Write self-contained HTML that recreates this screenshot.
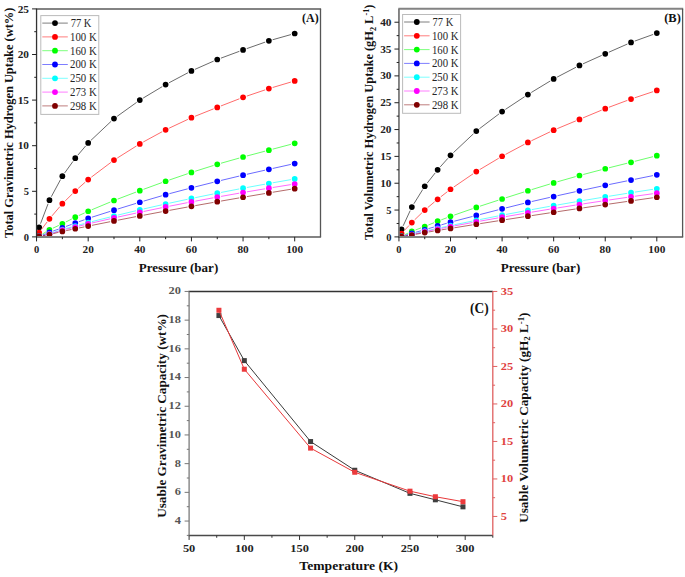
<!DOCTYPE html><html><head><meta charset="utf-8"><style>html,body{margin:0;padding:0;background:#fff;width:685px;height:577px;overflow:hidden}svg{display:block}text{font-family:"Liberation Serif", serif}.tk{font-size:10.5px;font-weight:bold;fill:#222}.lg{font-size:11.5px;fill:#262626}.tag{font-size:13.5px;font-weight:bold;fill:#111}.ti{font-size:12px;font-weight:bold;fill:#111}.tkg{font-size:10.5px;font-weight:bold;fill:#555}.tkr{font-size:10.5px;font-weight:bold;fill:#e04040}</style></head><body><svg width="685" height="577" viewBox="0 0 685 577">
<clipPath id="cA"><rect x="36.55" y="8.9" width="283.95" height="227.8"/></clipPath><g clip-path="url(#cA)">
<path d="M40.52 223.68L48.07 203.79M51.3 196.71L60.52 179.6M64.64 172.99L73 161.36M77.79 155.22L85.66 145.94M91.01 140.29L111.15 121.29M117.16 116.34L136.64 102.37M143.15 98.09L162.27 86.6M169.06 82.77L187.99 72.74M195 69.34L213.68 61.09M220.9 58.16L239.4 51.3M246.74 48.64L265.2 42.12M272.63 39.76L290.93 34.58" fill="none" stroke="#000000" stroke-width="0.75" stroke-opacity="0.78"/>
<circle cx="39.13" cy="227.32" r="2.85" fill="#000000"/>
<circle cx="49.46" cy="200.15" r="2.85" fill="#000000"/>
<circle cx="62.36" cy="176.16" r="2.85" fill="#000000"/>
<circle cx="75.27" cy="158.19" r="2.85" fill="#000000"/>
<circle cx="88.18" cy="142.96" r="2.85" fill="#000000"/>
<circle cx="113.99" cy="118.61" r="2.85" fill="#000000"/>
<circle cx="139.8" cy="100.1" r="2.85" fill="#000000"/>
<circle cx="165.62" cy="84.6" r="2.85" fill="#000000"/>
<circle cx="191.43" cy="70.92" r="2.85" fill="#000000"/>
<circle cx="217.25" cy="59.52" r="2.85" fill="#000000"/>
<circle cx="243.06" cy="49.94" r="2.85" fill="#000000"/>
<circle cx="268.87" cy="40.82" r="2.85" fill="#000000"/>
<circle cx="294.69" cy="33.52" r="2.85" fill="#000000"/>
<path d="M41.48 229.41L47.11 221.96M51.99 215.87L59.83 206.67M65.15 200.97L72.49 193.76M78.18 188.43L85.26 182.13M91.29 177.19L110.87 162.45M117.29 158.03L136.5 145.95M143.23 142.01L162.19 131.7M169.15 128.17L187.9 119.36M195.05 116.26L213.62 108.84M220.88 105.98L239.42 98.78M246.75 96.11L265.18 89.86M272.61 87.5L290.95 82.06" fill="none" stroke="#ff0000" stroke-width="0.75" stroke-opacity="0.78"/>
<circle cx="39.13" cy="232.52" r="2.85" fill="#ff0000"/>
<circle cx="49.46" cy="218.84" r="2.85" fill="#ff0000"/>
<circle cx="62.36" cy="203.7" r="2.85" fill="#ff0000"/>
<circle cx="75.27" cy="191.03" r="2.85" fill="#ff0000"/>
<circle cx="88.18" cy="179.54" r="2.85" fill="#ff0000"/>
<circle cx="113.99" cy="160.11" r="2.85" fill="#ff0000"/>
<circle cx="139.8" cy="143.88" r="2.85" fill="#ff0000"/>
<circle cx="165.62" cy="129.83" r="2.85" fill="#ff0000"/>
<circle cx="191.43" cy="117.7" r="2.85" fill="#ff0000"/>
<circle cx="217.25" cy="107.4" r="2.85" fill="#ff0000"/>
<circle cx="243.06" cy="97.36" r="2.85" fill="#ff0000"/>
<circle cx="268.87" cy="88.61" r="2.85" fill="#ff0000"/>
<circle cx="294.69" cy="80.95" r="2.85" fill="#ff0000"/>
<path d="M42.47 233.98L46.11 231.79M52.99 228.14L58.83 225.42M65.84 222L71.79 218.97M78.81 215.57L84.63 212.9M91.78 209.77L110.39 202.01M117.63 199.12L136.16 192.05M143.47 189.33L161.95 182.6M169.31 180L187.74 173.69M195.15 171.25L213.53 165.47M221 163.24L239.31 158.07M246.83 156.01L265.1 151.17M272.64 149.17L290.92 144.33" fill="none" stroke="#00ff00" stroke-width="0.75" stroke-opacity="0.78"/>
<circle cx="39.13" cy="235.99" r="2.85" fill="#00ff00"/>
<circle cx="49.46" cy="229.79" r="2.85" fill="#00ff00"/>
<circle cx="62.36" cy="223.77" r="2.85" fill="#00ff00"/>
<circle cx="75.27" cy="217.2" r="2.85" fill="#00ff00"/>
<circle cx="88.18" cy="211.27" r="2.85" fill="#00ff00"/>
<circle cx="113.99" cy="200.51" r="2.85" fill="#00ff00"/>
<circle cx="139.8" cy="190.66" r="2.85" fill="#00ff00"/>
<circle cx="165.62" cy="181.27" r="2.85" fill="#00ff00"/>
<circle cx="191.43" cy="172.42" r="2.85" fill="#00ff00"/>
<circle cx="217.25" cy="164.3" r="2.85" fill="#00ff00"/>
<circle cx="243.06" cy="157.01" r="2.85" fill="#00ff00"/>
<circle cx="268.87" cy="150.17" r="2.85" fill="#00ff00"/>
<circle cx="294.69" cy="143.33" r="2.85" fill="#00ff00"/>
<path d="M42.77 234.94L45.82 233.75M53.13 231.04L58.69 229.08M66.02 226.43L71.61 224.38M78.94 221.72L84.51 219.71M91.89 217.2L110.27 211.36M117.72 209.03L136.08 203.39M143.55 201.15L161.88 195.77M169.39 193.68L187.66 188.83M195.21 186.89L213.46 182.31M221.04 180.45L239.27 176.07M246.86 174.3L265.07 170.18M272.68 168.47L290.88 164.42" fill="none" stroke="#0000ff" stroke-width="0.75" stroke-opacity="0.78"/>
<circle cx="39.13" cy="236.35" r="2.85" fill="#0000ff"/>
<circle cx="49.46" cy="232.34" r="2.85" fill="#0000ff"/>
<circle cx="62.36" cy="227.78" r="2.85" fill="#0000ff"/>
<circle cx="75.27" cy="223.04" r="2.85" fill="#0000ff"/>
<circle cx="88.18" cy="218.39" r="2.85" fill="#0000ff"/>
<circle cx="113.99" cy="210.18" r="2.85" fill="#0000ff"/>
<circle cx="139.8" cy="202.24" r="2.85" fill="#0000ff"/>
<circle cx="165.62" cy="194.67" r="2.85" fill="#0000ff"/>
<circle cx="191.43" cy="187.83" r="2.85" fill="#0000ff"/>
<circle cx="217.25" cy="181.36" r="2.85" fill="#0000ff"/>
<circle cx="243.06" cy="175.16" r="2.85" fill="#0000ff"/>
<circle cx="268.87" cy="169.32" r="2.85" fill="#0000ff"/>
<circle cx="294.69" cy="163.58" r="2.85" fill="#0000ff"/>
<path d="M42.91 235.48L45.68 234.77M53.16 232.57L58.66 230.74M66.13 228.48L71.51 227.01M79.04 224.98L84.41 223.56M91.96 221.6L110.21 216.97M117.78 215.1L136.01 210.73M143.61 208.96L161.81 204.84M169.43 203.16L187.62 199.26M195.25 197.67L213.42 193.97M221.07 192.46L239.23 188.95M246.9 187.51L265.04 184.18M272.71 182.8L290.84 179.64" fill="none" stroke="#00ffff" stroke-width="0.75" stroke-opacity="0.78"/>
<circle cx="39.13" cy="236.44" r="2.85" fill="#00ffff"/>
<circle cx="49.46" cy="233.8" r="2.85" fill="#00ffff"/>
<circle cx="62.36" cy="229.51" r="2.85" fill="#00ffff"/>
<circle cx="75.27" cy="225.98" r="2.85" fill="#00ffff"/>
<circle cx="88.18" cy="222.56" r="2.85" fill="#00ffff"/>
<circle cx="113.99" cy="216.01" r="2.85" fill="#00ffff"/>
<circle cx="139.8" cy="209.83" r="2.85" fill="#00ffff"/>
<circle cx="165.62" cy="203.98" r="2.85" fill="#00ffff"/>
<circle cx="191.43" cy="198.45" r="2.85" fill="#00ffff"/>
<circle cx="217.25" cy="193.2" r="2.85" fill="#00ffff"/>
<circle cx="243.06" cy="188.21" r="2.85" fill="#00ffff"/>
<circle cx="268.87" cy="183.48" r="2.85" fill="#00ffff"/>
<circle cx="294.69" cy="178.96" r="2.85" fill="#00ffff"/>
<path d="M42.94 235.6L45.65 235M53.18 233.02L58.64 231.35M66.15 229.26L71.49 227.94M79.06 226.08L84.39 224.8M91.98 223.01L110.19 218.8M117.8 217.09L135.99 213.12M143.62 211.5L161.8 207.74M169.45 206.2L187.6 202.64M195.27 201.17L213.41 197.79M221.09 196.4L239.22 193.18M246.9 191.85L265.03 188.8M272.72 187.53L290.84 184.62" fill="none" stroke="#ff00ff" stroke-width="0.75" stroke-opacity="0.78"/>
<circle cx="39.13" cy="236.44" r="2.85" fill="#ff00ff"/>
<circle cx="49.46" cy="234.16" r="2.85" fill="#ff00ff"/>
<circle cx="62.36" cy="230.2" r="2.85" fill="#ff00ff"/>
<circle cx="75.27" cy="227" r="2.85" fill="#ff00ff"/>
<circle cx="88.18" cy="223.89" r="2.85" fill="#ff00ff"/>
<circle cx="113.99" cy="217.92" r="2.85" fill="#ff00ff"/>
<circle cx="139.8" cy="212.29" r="2.85" fill="#ff00ff"/>
<circle cx="165.62" cy="206.95" r="2.85" fill="#ff00ff"/>
<circle cx="191.43" cy="201.88" r="2.85" fill="#ff00ff"/>
<circle cx="217.25" cy="197.08" r="2.85" fill="#ff00ff"/>
<circle cx="243.06" cy="192.5" r="2.85" fill="#ff00ff"/>
<circle cx="268.87" cy="188.15" r="2.85" fill="#ff00ff"/>
<circle cx="294.69" cy="184" r="2.85" fill="#ff00ff"/>
<path d="M42.97 235.73L45.62 235.24M53.25 233.62L58.57 232.33M66.18 230.63L71.45 229.53M79.09 227.96L84.36 226.89M92 225.34L110.17 221.71M117.82 220.2L135.98 216.67M143.64 215.21L161.79 211.78M169.45 210.36L187.6 207.03M195.27 205.64L213.41 202.41M221.09 201.06L239.22 197.91M246.9 196.6L265.03 193.54M272.72 192.26L290.84 189.28" fill="none" stroke="#800000" stroke-width="0.75" stroke-opacity="0.78"/>
<circle cx="39.13" cy="236.44" r="2.85" fill="#800000"/>
<circle cx="49.46" cy="234.53" r="2.85" fill="#800000"/>
<circle cx="62.36" cy="231.42" r="2.85" fill="#800000"/>
<circle cx="75.27" cy="228.74" r="2.85" fill="#800000"/>
<circle cx="88.18" cy="226.1" r="2.85" fill="#800000"/>
<circle cx="113.99" cy="220.94" r="2.85" fill="#800000"/>
<circle cx="139.8" cy="215.93" r="2.85" fill="#800000"/>
<circle cx="165.62" cy="211.06" r="2.85" fill="#800000"/>
<circle cx="191.43" cy="206.33" r="2.85" fill="#800000"/>
<circle cx="217.25" cy="201.72" r="2.85" fill="#800000"/>
<circle cx="243.06" cy="197.25" r="2.85" fill="#800000"/>
<circle cx="268.87" cy="192.89" r="2.85" fill="#800000"/>
<circle cx="294.69" cy="188.65" r="2.85" fill="#800000"/>
</g>
<path d="M35.95 8.9H321.1M35.95 236.9H321.1" fill="none" stroke="#838383" stroke-width="2"/>
<path d="M36.55 8.9V236.9" fill="none" stroke="#333" stroke-width="1.3"/>
<path d="M320.5 8.9V236.9" fill="none" stroke="#555" stroke-width="1.3"/>
<path d="M36.55 236.9v4.5M88.18 236.9v4.5M139.8 236.9v4.5M191.43 236.9v4.5M243.06 236.9v4.5M294.69 236.9v4.5M62.36 236.9v2.3M113.99 236.9v2.3M165.62 236.9v2.3M217.25 236.9v2.3M268.87 236.9v2.3M36.55 236.9h-4.5M36.55 191.3h-4.5M36.55 145.7h-4.5M36.55 100.1h-4.5M36.55 54.5h-4.5M36.55 8.9h-4.5M36.55 214.1h-2.3M36.55 168.5h-2.3M36.55 122.9h-2.3M36.55 77.3h-2.3M36.55 31.7h-2.3" stroke="#222" stroke-width="1" fill="none"/>
<text x="36.55" y="252.8" text-anchor="middle" class="tk">0</text>
<text x="88.18" y="252.8" text-anchor="middle" class="tk" textLength="11.3" lengthAdjust="spacingAndGlyphs">20</text>
<text x="139.8" y="252.8" text-anchor="middle" class="tk" textLength="11.3" lengthAdjust="spacingAndGlyphs">40</text>
<text x="191.43" y="252.8" text-anchor="middle" class="tk" textLength="11.3" lengthAdjust="spacingAndGlyphs">60</text>
<text x="243.06" y="252.8" text-anchor="middle" class="tk" textLength="11.3" lengthAdjust="spacingAndGlyphs">80</text>
<text x="294.69" y="252.8" text-anchor="middle" class="tk" textLength="16.95" lengthAdjust="spacingAndGlyphs">100</text>
<text x="29" y="240.5" text-anchor="end" class="tk">0</text>
<text x="29" y="194.9" text-anchor="end" class="tk">5</text>
<text x="29" y="149.3" text-anchor="end" class="tk" textLength="11.3" lengthAdjust="spacingAndGlyphs">10</text>
<text x="29" y="103.7" text-anchor="end" class="tk" textLength="11.3" lengthAdjust="spacingAndGlyphs">15</text>
<text x="29" y="58.1" text-anchor="end" class="tk" textLength="11.3" lengthAdjust="spacingAndGlyphs">20</text>
<text x="29" y="12.5" text-anchor="end" class="tk" textLength="11.3" lengthAdjust="spacingAndGlyphs">25</text>
<rect x="40.8" y="15.6" width="58" height="98.8" fill="#fff" stroke="#bbb" stroke-width="1"/>
<path d="M42.3 23.1h25.5" stroke="#000000" stroke-width="1" opacity="0.5"/>
<circle cx="55" cy="23.1" r="2.9" fill="#000000"/>
<text x="70.7" y="27" class="lg" textLength="20.8" lengthAdjust="spacingAndGlyphs">77 K</text>
<path d="M42.3 36.9h25.5" stroke="#ff0000" stroke-width="1" opacity="0.5"/>
<circle cx="55" cy="36.9" r="2.9" fill="#ff0000"/>
<text x="70.1" y="40.8" class="lg" textLength="26.6" lengthAdjust="spacingAndGlyphs">100 K</text>
<path d="M42.3 50.7h25.5" stroke="#00ff00" stroke-width="1" opacity="0.5"/>
<circle cx="55" cy="50.7" r="2.9" fill="#00ff00"/>
<text x="70.1" y="54.6" class="lg" textLength="26.6" lengthAdjust="spacingAndGlyphs">160 K</text>
<path d="M42.3 64.5h25.5" stroke="#0000ff" stroke-width="1" opacity="0.5"/>
<circle cx="55" cy="64.5" r="2.9" fill="#0000ff"/>
<text x="70.1" y="68.4" class="lg" textLength="26.6" lengthAdjust="spacingAndGlyphs">200 K</text>
<path d="M42.3 78.3h25.5" stroke="#00ffff" stroke-width="1" opacity="0.5"/>
<circle cx="55" cy="78.3" r="2.9" fill="#00ffff"/>
<text x="70.1" y="82.2" class="lg" textLength="26.6" lengthAdjust="spacingAndGlyphs">250 K</text>
<path d="M42.3 92.1h25.5" stroke="#ff00ff" stroke-width="1" opacity="0.5"/>
<circle cx="55" cy="92.1" r="2.9" fill="#ff00ff"/>
<text x="70.1" y="96" class="lg" textLength="26.6" lengthAdjust="spacingAndGlyphs">273 K</text>
<path d="M42.3 105.9h25.5" stroke="#800000" stroke-width="1" opacity="0.5"/>
<circle cx="55" cy="105.9" r="2.9" fill="#800000"/>
<text x="70.1" y="109.8" class="lg" textLength="26.6" lengthAdjust="spacingAndGlyphs">298 K</text>
<text x="318.7" y="21.5" text-anchor="end" class="tag" textLength="16.6" lengthAdjust="spacingAndGlyphs">(A)</text>
<clipPath id="cB"><rect x="398.95" y="8.8" width="283.65" height="227.9"/></clipPath><g clip-path="url(#cB)">
<path d="M403.17 225.83L410.2 210.62M413.89 203.77L422.68 189.55M427.15 183.17L435.22 172.9M440.22 166.92L447.93 158.28M453.36 152.69L473.47 133.75M479.42 128.73L498.98 113.95M505.35 109.44L524.63 96.7M531.22 92.52L550.33 80.94M557.12 77.11L576 67.25M583.01 63.84L601.69 55.41M608.81 52.23L627.46 44M634.7 41.1L653.15 34.44" fill="none" stroke="#000000" stroke-width="0.75" stroke-opacity="0.78"/>
<circle cx="401.53" cy="229.37" r="2.85" fill="#000000"/>
<circle cx="411.84" cy="207.08" r="2.85" fill="#000000"/>
<circle cx="424.74" cy="186.24" r="2.85" fill="#000000"/>
<circle cx="437.63" cy="169.83" r="2.85" fill="#000000"/>
<circle cx="450.52" cy="155.37" r="2.85" fill="#000000"/>
<circle cx="476.31" cy="131.08" r="2.85" fill="#000000"/>
<circle cx="502.1" cy="111.59" r="2.85" fill="#000000"/>
<circle cx="527.88" cy="94.55" r="2.85" fill="#000000"/>
<circle cx="553.67" cy="78.92" r="2.85" fill="#000000"/>
<circle cx="579.45" cy="65.44" r="2.85" fill="#000000"/>
<circle cx="605.24" cy="53.8" r="2.85" fill="#000000"/>
<circle cx="631.03" cy="42.42" r="2.85" fill="#000000"/>
<circle cx="656.81" cy="33.11" r="2.85" fill="#000000"/>
<path d="M404.21 230.64L409.16 225.39M414.65 219.84L421.93 212.79M427.73 207.58L434.64 201.79M440.71 196.89L447.45 191.64M453.74 187.04L473.09 173.82M479.66 169.62L498.75 158.24M505.53 154.41L524.44 144.29M531.4 140.77L550.15 131.82M557.27 128.64L575.86 120.89M583.05 117.88L601.64 110.14M608.9 107.27L627.37 100.39M634.73 97.79L653.11 91.67" fill="none" stroke="#ff0000" stroke-width="0.75" stroke-opacity="0.78"/>
<circle cx="401.53" cy="233.48" r="2.85" fill="#ff0000"/>
<circle cx="411.84" cy="222.56" r="2.85" fill="#ff0000"/>
<circle cx="424.74" cy="210.08" r="2.85" fill="#ff0000"/>
<circle cx="437.63" cy="199.29" r="2.85" fill="#ff0000"/>
<circle cx="450.52" cy="189.24" r="2.85" fill="#ff0000"/>
<circle cx="476.31" cy="171.62" r="2.85" fill="#ff0000"/>
<circle cx="502.1" cy="156.25" r="2.85" fill="#ff0000"/>
<circle cx="527.88" cy="142.45" r="2.85" fill="#ff0000"/>
<circle cx="553.67" cy="130.14" r="2.85" fill="#ff0000"/>
<circle cx="579.45" cy="119.38" r="2.85" fill="#ff0000"/>
<circle cx="605.24" cy="108.64" r="2.85" fill="#ff0000"/>
<circle cx="631.03" cy="99.03" r="2.85" fill="#ff0000"/>
<circle cx="656.81" cy="90.43" r="2.85" fill="#ff0000"/>
<path d="M405.06 234.52L408.32 232.98M415.5 229.96L421.08 227.88M428.34 225.04L434.02 222.71M441.28 219.85L446.87 217.74M454.21 215.09L472.63 208.67M480.02 206.18L498.39 200.19M505.81 197.79L524.17 191.95M531.61 189.63L549.94 184.02M557.42 181.81L575.71 176.57M583.23 174.5L601.47 169.72M609.02 167.78L627.24 163.22M634.81 161.32L653.03 156.68" fill="none" stroke="#00ff00" stroke-width="0.75" stroke-opacity="0.78"/>
<circle cx="401.53" cy="236.19" r="2.85" fill="#00ff00"/>
<circle cx="411.84" cy="231.32" r="2.85" fill="#00ff00"/>
<circle cx="424.74" cy="226.53" r="2.85" fill="#00ff00"/>
<circle cx="437.63" cy="221.22" r="2.85" fill="#00ff00"/>
<circle cx="450.52" cy="216.37" r="2.85" fill="#00ff00"/>
<circle cx="476.31" cy="207.39" r="2.85" fill="#00ff00"/>
<circle cx="502.1" cy="198.98" r="2.85" fill="#00ff00"/>
<circle cx="527.88" cy="190.77" r="2.85" fill="#00ff00"/>
<circle cx="553.67" cy="182.88" r="2.85" fill="#00ff00"/>
<circle cx="579.45" cy="175.49" r="2.85" fill="#00ff00"/>
<circle cx="605.24" cy="168.73" r="2.85" fill="#00ff00"/>
<circle cx="631.03" cy="162.28" r="2.85" fill="#00ff00"/>
<circle cx="656.81" cy="155.72" r="2.85" fill="#00ff00"/>
<path d="M405.26 235.34L408.11 234.47M415.6 232.28L420.98 230.78M428.48 228.63L433.89 227.04M441.37 224.85L446.78 223.28M454.3 221.2L472.54 216.45M480.09 214.5L498.32 209.82M505.88 207.91L524.1 203.37M531.68 201.56L549.87 197.4M557.48 195.69L575.65 191.69M583.27 190.04L601.43 186.15M609.06 184.56L627.21 180.85M634.85 179.29L652.99 175.6" fill="none" stroke="#0000ff" stroke-width="0.75" stroke-opacity="0.78"/>
<circle cx="401.53" cy="236.47" r="2.85" fill="#0000ff"/>
<circle cx="411.84" cy="233.33" r="2.85" fill="#0000ff"/>
<circle cx="424.74" cy="229.73" r="2.85" fill="#0000ff"/>
<circle cx="437.63" cy="225.94" r="2.85" fill="#0000ff"/>
<circle cx="450.52" cy="222.19" r="2.85" fill="#0000ff"/>
<circle cx="476.31" cy="215.47" r="2.85" fill="#0000ff"/>
<circle cx="502.1" cy="208.85" r="2.85" fill="#0000ff"/>
<circle cx="527.88" cy="202.43" r="2.85" fill="#0000ff"/>
<circle cx="553.67" cy="196.53" r="2.85" fill="#0000ff"/>
<circle cx="579.45" cy="190.85" r="2.85" fill="#0000ff"/>
<circle cx="605.24" cy="185.34" r="2.85" fill="#0000ff"/>
<circle cx="631.03" cy="180.07" r="2.85" fill="#0000ff"/>
<circle cx="656.81" cy="174.82" r="2.85" fill="#0000ff"/>
<path d="M405.35 235.78L408.02 235.24M415.62 233.49L420.96 232.09M428.55 230.27L433.82 229.12M441.44 227.48L446.71 226.37M454.34 224.77L472.49 221.04M480.14 219.5L498.27 215.93M505.93 214.45L524.05 211.03M531.72 209.61L549.83 206.34M557.51 204.97L575.61 201.83M583.3 200.52L601.39 197.5M609.09 196.24L627.18 193.33M634.88 192.12L652.96 189.33" fill="none" stroke="#00ffff" stroke-width="0.75" stroke-opacity="0.78"/>
<circle cx="401.53" cy="236.54" r="2.85" fill="#00ffff"/>
<circle cx="411.84" cy="234.48" r="2.85" fill="#00ffff"/>
<circle cx="424.74" cy="231.1" r="2.85" fill="#00ffff"/>
<circle cx="437.63" cy="228.3" r="2.85" fill="#00ffff"/>
<circle cx="450.52" cy="225.56" r="2.85" fill="#00ffff"/>
<circle cx="476.31" cy="220.25" r="2.85" fill="#00ffff"/>
<circle cx="502.1" cy="215.18" r="2.85" fill="#00ffff"/>
<circle cx="527.88" cy="210.31" r="2.85" fill="#00ffff"/>
<circle cx="553.67" cy="205.64" r="2.85" fill="#00ffff"/>
<circle cx="579.45" cy="201.16" r="2.85" fill="#00ffff"/>
<circle cx="605.24" cy="196.86" r="2.85" fill="#00ffff"/>
<circle cx="631.03" cy="192.72" r="2.85" fill="#00ffff"/>
<circle cx="656.81" cy="188.73" r="2.85" fill="#00ffff"/>
<path d="M405.37 235.88L408 235.43M415.63 233.85L420.95 232.56M428.56 230.89L433.8 229.86M441.46 228.37L446.69 227.36M454.36 225.91L472.48 222.53M480.15 221.13L498.26 217.89M505.94 216.55L524.04 213.45M531.73 212.16L549.82 209.18M557.52 207.94L575.6 205.09M583.31 203.89L601.39 201.15M609.1 200L627.17 197.36M634.89 196.26L652.95 193.72" fill="none" stroke="#ff00ff" stroke-width="0.75" stroke-opacity="0.78"/>
<circle cx="401.53" cy="236.54" r="2.85" fill="#ff00ff"/>
<circle cx="411.84" cy="234.76" r="2.85" fill="#ff00ff"/>
<circle cx="424.74" cy="231.65" r="2.85" fill="#ff00ff"/>
<circle cx="437.63" cy="229.11" r="2.85" fill="#ff00ff"/>
<circle cx="450.52" cy="226.62" r="2.85" fill="#ff00ff"/>
<circle cx="476.31" cy="221.81" r="2.85" fill="#ff00ff"/>
<circle cx="502.1" cy="217.21" r="2.85" fill="#ff00ff"/>
<circle cx="527.88" cy="212.79" r="2.85" fill="#ff00ff"/>
<circle cx="553.67" cy="208.55" r="2.85" fill="#ff00ff"/>
<circle cx="579.45" cy="204.48" r="2.85" fill="#ff00ff"/>
<circle cx="605.24" cy="200.56" r="2.85" fill="#ff00ff"/>
<circle cx="631.03" cy="196.8" r="2.85" fill="#ff00ff"/>
<circle cx="656.81" cy="193.17" r="2.85" fill="#ff00ff"/>
<path d="M405.39 235.99L407.98 235.61M415.68 234.32L420.9 233.33M428.58 231.98L433.78 231.12M441.48 229.87L446.67 229.02M454.37 227.78L472.46 224.87M480.16 223.65L498.24 220.8M505.95 219.59L524.03 216.79M531.74 215.61L549.81 212.86M557.53 211.69L575.6 208.99M583.31 207.85L601.38 205.19M609.1 204.07L627.17 201.46M634.89 200.35L652.95 197.78" fill="none" stroke="#800000" stroke-width="0.75" stroke-opacity="0.78"/>
<circle cx="401.53" cy="236.54" r="2.85" fill="#800000"/>
<circle cx="411.84" cy="235.05" r="2.85" fill="#800000"/>
<circle cx="424.74" cy="232.61" r="2.85" fill="#800000"/>
<circle cx="437.63" cy="230.49" r="2.85" fill="#800000"/>
<circle cx="450.52" cy="228.39" r="2.85" fill="#800000"/>
<circle cx="476.31" cy="224.25" r="2.85" fill="#800000"/>
<circle cx="502.1" cy="220.19" r="2.85" fill="#800000"/>
<circle cx="527.88" cy="216.2" r="2.85" fill="#800000"/>
<circle cx="553.67" cy="212.27" r="2.85" fill="#800000"/>
<circle cx="579.45" cy="208.41" r="2.85" fill="#800000"/>
<circle cx="605.24" cy="204.62" r="2.85" fill="#800000"/>
<circle cx="631.03" cy="200.9" r="2.85" fill="#800000"/>
<circle cx="656.81" cy="197.24" r="2.85" fill="#800000"/>
</g>
<path d="M398.35 8.8H683.2M398.35 236.9H683.2" fill="none" stroke="#838383" stroke-width="2"/>
<path d="M398.95 8.8V236.9" fill="none" stroke="#7a7a7a" stroke-width="1.8"/>
<path d="M682.6 8.8V236.9" fill="none" stroke="#555" stroke-width="1.3"/>
<path d="M398.95 236.9v4.5M450.52 236.9v4.5M502.1 236.9v4.5M553.67 236.9v4.5M605.24 236.9v4.5M656.81 236.9v4.5M424.74 236.9v2.3M476.31 236.9v2.3M527.88 236.9v2.3M579.45 236.9v2.3M631.03 236.9v2.3M398.95 236.9h-4.5M398.95 210.06h-4.5M398.95 183.23h-4.5M398.95 156.39h-4.5M398.95 129.56h-4.5M398.95 102.72h-4.5M398.95 75.89h-4.5M398.95 49.05h-4.5M398.95 22.22h-4.5M398.95 223.48h-2.3M398.95 196.65h-2.3M398.95 169.81h-2.3M398.95 142.98h-2.3M398.95 116.14h-2.3M398.95 89.31h-2.3M398.95 62.47h-2.3M398.95 35.64h-2.3" stroke="#222" stroke-width="1" fill="none"/>
<text x="398.95" y="252.8" text-anchor="middle" class="tk">0</text>
<text x="450.52" y="252.8" text-anchor="middle" class="tk" textLength="11.3" lengthAdjust="spacingAndGlyphs">20</text>
<text x="502.1" y="252.8" text-anchor="middle" class="tk" textLength="11.3" lengthAdjust="spacingAndGlyphs">40</text>
<text x="553.67" y="252.8" text-anchor="middle" class="tk" textLength="11.3" lengthAdjust="spacingAndGlyphs">60</text>
<text x="605.24" y="252.8" text-anchor="middle" class="tk" textLength="11.3" lengthAdjust="spacingAndGlyphs">80</text>
<text x="656.81" y="252.8" text-anchor="middle" class="tk" textLength="16.95" lengthAdjust="spacingAndGlyphs">100</text>
<text x="391.5" y="240.5" text-anchor="end" class="tk">0</text>
<text x="391.5" y="213.66" text-anchor="end" class="tk">5</text>
<text x="391.5" y="186.83" text-anchor="end" class="tk" textLength="11.3" lengthAdjust="spacingAndGlyphs">10</text>
<text x="391.5" y="159.99" text-anchor="end" class="tk" textLength="11.3" lengthAdjust="spacingAndGlyphs">15</text>
<text x="391.5" y="133.16" text-anchor="end" class="tk" textLength="11.3" lengthAdjust="spacingAndGlyphs">20</text>
<text x="391.5" y="106.32" text-anchor="end" class="tk" textLength="11.3" lengthAdjust="spacingAndGlyphs">25</text>
<text x="391.5" y="79.49" text-anchor="end" class="tk" textLength="11.3" lengthAdjust="spacingAndGlyphs">30</text>
<text x="391.5" y="52.65" text-anchor="end" class="tk" textLength="11.3" lengthAdjust="spacingAndGlyphs">35</text>
<text x="391.5" y="25.82" text-anchor="end" class="tk" textLength="11.3" lengthAdjust="spacingAndGlyphs">40</text>
<rect x="402.6" y="14.5" width="58" height="98.8" fill="#fff" stroke="#bbb" stroke-width="1"/>
<path d="M404.1 22h25.5" stroke="#000000" stroke-width="1" opacity="0.5"/>
<circle cx="416.8" cy="22" r="2.9" fill="#000000"/>
<text x="432.5" y="25.9" class="lg" textLength="20.8" lengthAdjust="spacingAndGlyphs">77 K</text>
<path d="M404.1 35.8h25.5" stroke="#ff0000" stroke-width="1" opacity="0.5"/>
<circle cx="416.8" cy="35.8" r="2.9" fill="#ff0000"/>
<text x="431.9" y="39.7" class="lg" textLength="26.6" lengthAdjust="spacingAndGlyphs">100 K</text>
<path d="M404.1 49.6h25.5" stroke="#00ff00" stroke-width="1" opacity="0.5"/>
<circle cx="416.8" cy="49.6" r="2.9" fill="#00ff00"/>
<text x="431.9" y="53.5" class="lg" textLength="26.6" lengthAdjust="spacingAndGlyphs">160 K</text>
<path d="M404.1 63.4h25.5" stroke="#0000ff" stroke-width="1" opacity="0.5"/>
<circle cx="416.8" cy="63.4" r="2.9" fill="#0000ff"/>
<text x="431.9" y="67.3" class="lg" textLength="26.6" lengthAdjust="spacingAndGlyphs">200 K</text>
<path d="M404.1 77.2h25.5" stroke="#00ffff" stroke-width="1" opacity="0.5"/>
<circle cx="416.8" cy="77.2" r="2.9" fill="#00ffff"/>
<text x="431.9" y="81.1" class="lg" textLength="26.6" lengthAdjust="spacingAndGlyphs">250 K</text>
<path d="M404.1 91h25.5" stroke="#ff00ff" stroke-width="1" opacity="0.5"/>
<circle cx="416.8" cy="91" r="2.9" fill="#ff00ff"/>
<text x="431.9" y="94.9" class="lg" textLength="26.6" lengthAdjust="spacingAndGlyphs">273 K</text>
<path d="M404.1 104.8h25.5" stroke="#800000" stroke-width="1" opacity="0.5"/>
<circle cx="416.8" cy="104.8" r="2.9" fill="#800000"/>
<text x="431.9" y="108.7" class="lg" textLength="26.6" lengthAdjust="spacingAndGlyphs">298 K</text>
<text x="680.8" y="21.7" text-anchor="end" class="tag" textLength="16.6" lengthAdjust="spacingAndGlyphs">(B)</text>
<text x="178.5" y="272.4" text-anchor="middle" class="ti" textLength="79.5" lengthAdjust="spacingAndGlyphs">Pressure (bar)</text>
<text x="540.5" y="272.4" text-anchor="middle" class="ti" textLength="79.5" lengthAdjust="spacingAndGlyphs">Pressure (bar)</text>
<text transform="translate(12.8,237.9) rotate(-90)" class="ti" textLength="230.3" lengthAdjust="spacingAndGlyphs">Total Gravimetric Hydrogen Uptake (wt%)</text>
<text transform="translate(373.2,240.1) rotate(-90)" class="ti" textLength="235.5" lengthAdjust="spacingAndGlyphs">Total Volumetric Hydrogen Uptake (gH<tspan font-size="8" dy="2.5">2</tspan><tspan dy="-2.5"> L</tspan><tspan font-size="8" dy="-4">-1</tspan><tspan dy="4">)</tspan></text>
<path d="M188.5 291.4H492.8" stroke="#333" stroke-width="1.5" fill="none"/>
<path d="M188.5 535.45H492.8" stroke="#4a4a4a" stroke-width="1.5" fill="none"/>
<path d="M189.1 291.4V535.45" stroke="#7a7a7a" stroke-width="1.3" fill="none"/>
<path d="M492.8 291.4V535.45" stroke="#e06060" stroke-width="1.3" fill="none"/>
<path d="M189.1 535.45v4.5M244.32 535.45v4.5M299.54 535.45v4.5M354.75 535.45v4.5M409.97 535.45v4.5M465.19 535.45v4.5M216.71 535.45v2.3M271.93 535.45v2.3M327.15 535.45v2.3M382.36 535.45v2.3M437.58 535.45v2.3M492.8 535.45v2.3" stroke="#333" stroke-width="1" fill="none"/>
<path d="M189.1 521.05h-4.5M189.1 492.35h-4.5M189.1 463.65h-4.5M189.1 434.95h-4.5M189.1 406.25h-4.5M189.1 377.55h-4.5M189.1 348.85h-4.5M189.1 320.15h-4.5M189.1 291.45h-4.5M189.1 535.4h-2.3M189.1 506.7h-2.3M189.1 478h-2.3M189.1 449.3h-2.3M189.1 420.6h-2.3M189.1 391.9h-2.3M189.1 363.2h-2.3M189.1 334.5h-2.3M189.1 305.8h-2.3" stroke="#777" stroke-width="1" fill="none"/>
<path d="M492.8 516.45h4.5M492.8 478.95h4.5M492.8 441.45h4.5M492.8 403.95h4.5M492.8 366.45h4.5M492.8 328.95h4.5M492.8 291.45h4.5M492.8 497.7h2.3M492.8 460.2h2.3M492.8 422.7h2.3M492.8 385.2h2.3M492.8 347.7h2.3M492.8 310.2h2.3" stroke="#e06060" stroke-width="1" fill="none"/>
<text x="189.1" y="551.9" text-anchor="middle" class="tk" textLength="12.4" lengthAdjust="spacingAndGlyphs">50</text>
<text x="244.32" y="551.9" text-anchor="middle" class="tk" textLength="18.6" lengthAdjust="spacingAndGlyphs">100</text>
<text x="299.54" y="551.9" text-anchor="middle" class="tk" textLength="18.6" lengthAdjust="spacingAndGlyphs">150</text>
<text x="354.75" y="551.9" text-anchor="middle" class="tk" textLength="18.6" lengthAdjust="spacingAndGlyphs">200</text>
<text x="409.97" y="551.9" text-anchor="middle" class="tk" textLength="18.6" lengthAdjust="spacingAndGlyphs">250</text>
<text x="465.19" y="551.9" text-anchor="middle" class="tk" textLength="18.6" lengthAdjust="spacingAndGlyphs">300</text>
<text x="180.9" y="523.95" text-anchor="end" class="tkg" textLength="6.2" lengthAdjust="spacingAndGlyphs">4</text>
<text x="180.9" y="495.25" text-anchor="end" class="tkg" textLength="6.2" lengthAdjust="spacingAndGlyphs">6</text>
<text x="180.9" y="466.55" text-anchor="end" class="tkg" textLength="6.2" lengthAdjust="spacingAndGlyphs">8</text>
<text x="180.9" y="437.85" text-anchor="end" class="tkg" textLength="12.4" lengthAdjust="spacingAndGlyphs">10</text>
<text x="180.9" y="409.15" text-anchor="end" class="tkg" textLength="12.4" lengthAdjust="spacingAndGlyphs">12</text>
<text x="180.9" y="380.45" text-anchor="end" class="tkg" textLength="12.4" lengthAdjust="spacingAndGlyphs">14</text>
<text x="180.9" y="351.75" text-anchor="end" class="tkg" textLength="12.4" lengthAdjust="spacingAndGlyphs">16</text>
<text x="180.9" y="323.05" text-anchor="end" class="tkg" textLength="12.4" lengthAdjust="spacingAndGlyphs">18</text>
<text x="180.9" y="294.35" text-anchor="end" class="tkg" textLength="12.4" lengthAdjust="spacingAndGlyphs">20</text>
<text x="500.8" y="519.55" class="tkr" textLength="6.2" lengthAdjust="spacingAndGlyphs">5</text>
<text x="500.8" y="482.05" class="tkr" textLength="12.4" lengthAdjust="spacingAndGlyphs">10</text>
<text x="500.8" y="444.55" class="tkr" textLength="12.4" lengthAdjust="spacingAndGlyphs">15</text>
<text x="500.8" y="407.05" class="tkr" textLength="12.4" lengthAdjust="spacingAndGlyphs">20</text>
<text x="500.8" y="369.55" class="tkr" textLength="12.4" lengthAdjust="spacingAndGlyphs">25</text>
<text x="500.8" y="332.05" class="tkr" textLength="12.4" lengthAdjust="spacingAndGlyphs">30</text>
<text x="500.8" y="294.55" class="tkr" textLength="12.4" lengthAdjust="spacingAndGlyphs">35</text>
<polyline points="218.92,315.56 244.32,360.62 310.58,441.55 354.75,470.25 409.97,493.35 435.37,499.81 462.98,506.84" fill="none" stroke="#3a3a3a" stroke-width="1"/>
<rect x="216.42" y="313.06" width="5" height="5" fill="#3f3f3f"/>
<rect x="241.82" y="358.12" width="5" height="5" fill="#3f3f3f"/>
<rect x="308.08" y="439.05" width="5" height="5" fill="#3f3f3f"/>
<rect x="352.25" y="467.75" width="5" height="5" fill="#3f3f3f"/>
<rect x="407.47" y="490.85" width="5" height="5" fill="#3f3f3f"/>
<rect x="432.87" y="497.31" width="5" height="5" fill="#3f3f3f"/>
<rect x="460.48" y="504.34" width="5" height="5" fill="#3f3f3f"/>
<polyline points="218.92,310.27 244.32,369.23 310.58,448.12 354.75,472.27 409.97,491.18 435.37,496.73 462.98,501.68" fill="none" stroke="#e8383a" stroke-width="1"/>
<rect x="216.42" y="307.77" width="5" height="5" fill="#ec3a3c"/>
<rect x="241.82" y="366.73" width="5" height="5" fill="#ec3a3c"/>
<rect x="308.08" y="445.62" width="5" height="5" fill="#ec3a3c"/>
<rect x="352.25" y="469.77" width="5" height="5" fill="#ec3a3c"/>
<rect x="407.47" y="488.68" width="5" height="5" fill="#ec3a3c"/>
<rect x="432.87" y="494.23" width="5" height="5" fill="#ec3a3c"/>
<rect x="460.48" y="499.18" width="5" height="5" fill="#ec3a3c"/>
<text x="488.7" y="313.4" text-anchor="end" class="tag" style="font-size:14.5px" textLength="18.6" lengthAdjust="spacingAndGlyphs">(C)</text>
<text x="348.7" y="570.2" text-anchor="middle" class="ti" textLength="98.7" lengthAdjust="spacingAndGlyphs">Temperature (K)</text>
<text transform="translate(166,517.8) rotate(-90)" class="ti" textLength="203.8" lengthAdjust="spacingAndGlyphs">Usable Gravimetric Capacity (wt%)</text>
<text transform="translate(527.6,522.8) rotate(-90)" class="ti" textLength="210.3" lengthAdjust="spacingAndGlyphs">Usable Volumetric Capacity (gH<tspan font-size="8" dy="2.5">2</tspan><tspan dy="-2.5"> L</tspan><tspan font-size="8" dy="-4">-1</tspan><tspan dy="4">)</tspan></text>
</svg></body></html>
